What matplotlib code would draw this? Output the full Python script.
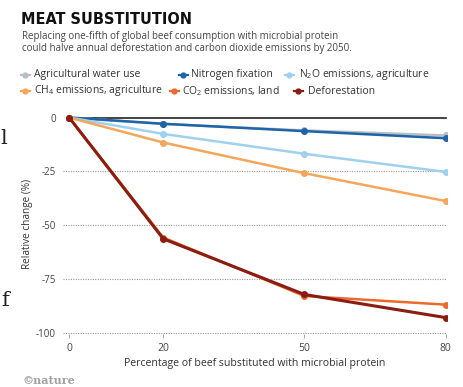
import matplotlib
matplotlib.use("Agg")
import matplotlib.pyplot as plt
from matplotlib.lines import Line2D

x_vals = [0, 20, 50, 80]
water_use = [0, -3.0, -6.0, -8.3]
nitrogen = [0, -2.9, -6.3, -9.6]
n2o = [0, -7.6, -16.8, -25.2]
ch4 = [0, -11.6, -25.8, -38.7]
co2_land = [0, -55.6, -82.7, -86.7]
deforest = [0, -56.2, -82.0, -92.7]

series_names = ["Agricultural water use", "Nitrogen fixation", "N$_2$O emissions, agriculture",
                "CH$_4$ emissions, agriculture", "CO$_2$ emissions, land", "Deforestation"]
series_vals = [water_use, nitrogen, n2o, ch4, co2_land, deforest]
colors = ["#b9bec6", "#1f64a8", "#9fd1ee", "#f4a65a", "#ea6a2c", "#8a1c12"]
y_ticks = [0, -25, -50, -75, -100]

plt.rcParams['font.family'] = ['Open Sans', 'DejaVu Sans']
plt.rcParams['mathtext.fontset'] = 'custom'
plt.rcParams['mathtext.rm'] = 'Open Sans'

W, H = 463, 387
fig = plt.figure(figsize=(W/100, H/100), dpi=100)
ax = fig.add_axes([63/W, 1-335.5/H, (447-63)/W, (335.5-113.2)/H])
ax.set_xlim(-1.3, 80.3)
ax.set_ylim(-101, 2)

for yv in y_ticks[1:]:
    ax.plot([-1.3, 80.3], [yv, yv], linestyle=(0, (1, 1.2)), color="#9a9a9a", lw=0.8, zorder=1)
ax.plot([0, 80], [0, 0], color="#222222", lw=1.2, zorder=2)

order = [0, 2, 3, 1, 4, 5]
for i in order:
    lw = 2.2 if i == 5 else 1.8
    ax.plot(x_vals, series_vals[i], color=colors[i], lw=lw, marker='o', ms=4,
            solid_capstyle='round', zorder=3 + i)

for s in ax.spines.values():
    s.set_visible(False)
ax.set_xticks(x_vals)
ax.set_xticklabels([str(v) for v in x_vals])
ax.set_yticks(y_ticks)
ax.set_yticklabels([str(v) for v in y_ticks])
ax.tick_params(axis='y', length=0, pad=5, labelsize=7, labelcolor="#444444")
ax.tick_params(axis='x', length=3, width=0.6, color="#9a9a9a", direction='inout', pad=4,
               labelsize=7.5, labelcolor="#444444")
ax.set_xlabel("Percentage of beef substituted with microbial protein", fontsize=7.6,
              color="#333333", labelpad=3)
ax.set_ylabel("Relative change (%)", fontsize=7.2, color="#333333", labelpad=2)

fig.text(21/W, 1-20/H, "MEAT SUBSTITUTION", fontsize=11.6, fontweight='bold',
         family=['DejaVu Sans'], fontstretch='condensed', color="#111111", va='center')
fig.text(22/W, 1-37/H, "Replacing one-fifth of global beef consumption with microbial protein",
         fontsize=7.0, color="#444444", va='center')
fig.text(22/W, 1-48.5/H, "could halve annual deforestation and carbon dioxide emissions by 2050.",
         fontsize=7.0, color="#444444", va='center')

leg_pos = [(25, 34, 75), (183, 191, 75), (289, 299, 75),
           (25, 34, 91), (174, 182, 91), (298, 308, 91)]
for i, (mx, tx, ly) in enumerate(leg_pos):
    fig.add_artist(Line2D([(mx-4.5)/W, (mx+4.5)/W], [1-ly/H, 1-ly/H], color=colors[i], lw=1.6,
                          transform=fig.transFigure))
    fig.add_artist(Line2D([mx/W], [1-ly/H], color=colors[i], marker='o', ms=3.5,
                          transform=fig.transFigure))
    fig.text(tx/W, 1-ly/H, series_names[i], fontsize=7.5, color="#333333", va='center')

fig.text(22/W, 1-380/H, "\u00a9nature", fontsize=8, color="#a0a0a0", fontweight='bold',
         family=['DejaVu Serif'], va='center')

fig.text(0/W, 1-138/H, "l", fontsize=15, family=['DejaVu Serif'], color="#222222", va='center')
fig.text(1/W, 1-301/H, "f", fontsize=15, family=['DejaVu Serif'], color="#222222", va='center')

fig.savefig("out.png", dpi=100, facecolor="white")
